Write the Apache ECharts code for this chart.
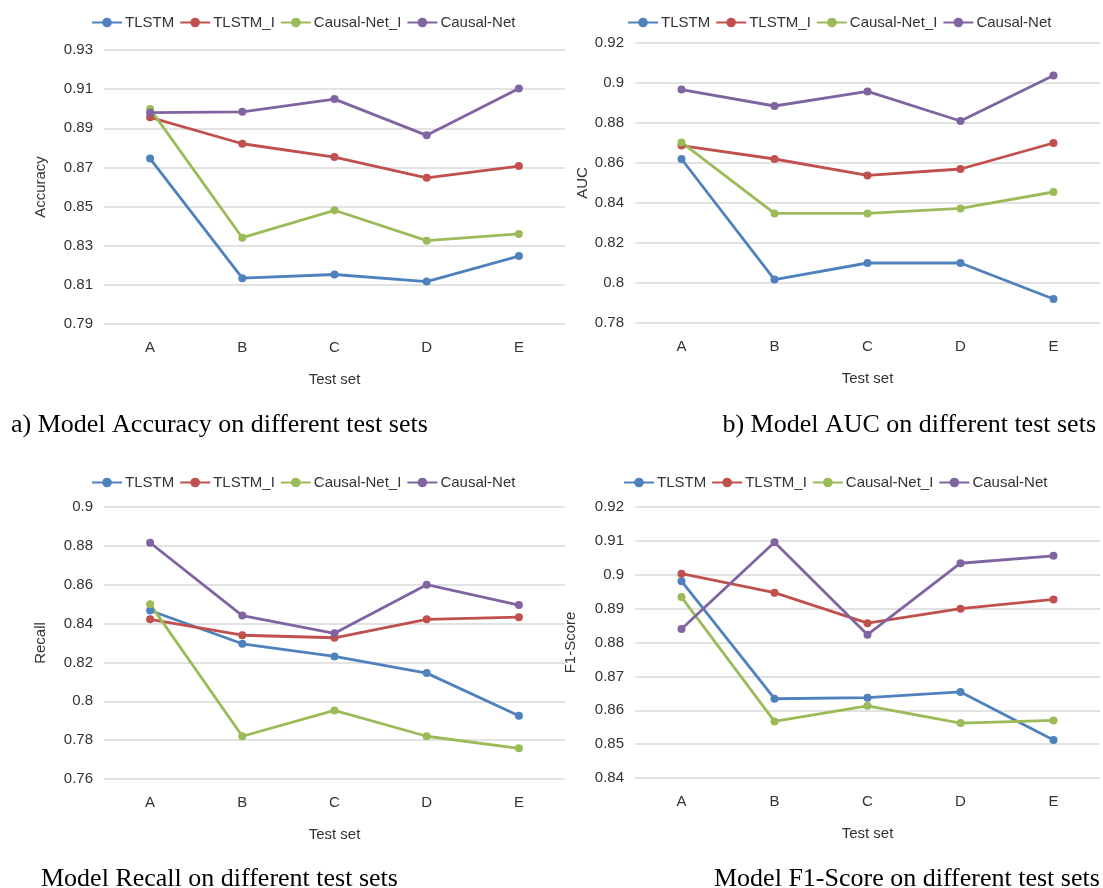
<!DOCTYPE html>
<html lang="en">
<head>
    <meta charset="UTF-8">
    <title>Model metrics on test sets</title>
    <script src="https://cdn.jsdelivr.net/npm/echarts@6/dist/echarts.min.js"></script>
    <style>
        html, body{
            margin: 0;
            padding: 0;
            background: #fff;
        }
        #main{
            width: 1103px;
            height: 888px;
        }
    </style>
</head>
<body>
<div id="main"></div>
<script>
    var testSets = ['A', 'B', 'C', 'D', 'E'];
    var models = ['TLSTM', 'TLSTM_I', 'Causal-Net_I', 'Causal-Net'];
    var colors = ['#4F81BD', '#C0504D', '#9BBB59', '#8064A2'];

    // a) accuracy
    var accTLSTM = [0.8745, 0.8134, 0.8153, 0.8117, 0.8247];
    var accTLSTM_I = [0.8956, 0.8821, 0.8753, 0.8647, 0.8707];
    var accCausalNet_I = [0.8999, 0.8341, 0.8481, 0.8326, 0.8360];
    var accCausalNet = [0.8980, 0.8984, 0.9049, 0.8864, 0.9103];

    // b) auc
    var aucTLSTM = [0.8620, 0.8017, 0.8100, 0.8100, 0.7920];
    var aucTLSTM_I = [0.8687, 0.8620, 0.8538, 0.8570, 0.8700];
    var aucCausalNet_I = [0.8703, 0.8348, 0.8348, 0.8373, 0.8455];
    var aucCausalNet = [0.8967, 0.8885, 0.8958, 0.8810, 0.9037];

    // recall
    var recTLSTM = [0.8467, 0.8296, 0.8231, 0.8145, 0.7926];
    var recTLSTM_I = [0.8422, 0.8340, 0.8327, 0.8422, 0.8433];
    var recCausalNet_I = [0.8500, 0.7820, 0.7953, 0.7820, 0.7758];
    var recCausalNet = [0.8816, 0.8441, 0.8350, 0.8600, 0.8495];

    // f1
    var f1TLSTM = [0.8981, 0.8634, 0.8637, 0.8654, 0.8512];
    var f1TLSTM_I = [0.9003, 0.8947, 0.8857, 0.8900, 0.8927];
    var f1CausalNet_I = [0.8934, 0.8567, 0.8613, 0.8562, 0.8570];
    var f1CausalNet = [0.8840, 0.9096, 0.8823, 0.9034, 0.9056];

    var font = 'Liberation Sans';
    var textColor = '#333';
    var gridColor = '#d9d9d9';

    var panels = [
        {name: 'Accuracy', left: 104, top: 50, height: 274, width: 461, min: 0.79, max: 0.93, interval: 0.01, oddOnly: true,
            data: [accTLSTM, accTLSTM_I, accCausalNet_I, accCausalNet], legendLeft: 86, legendTop: 10, nameGap: 56},
        {name: 'AUC', left: 635, top: 43, height: 280, width: 465, min: 0.78, max: 0.92, interval: 0.02,
            data: [aucTLSTM, aucTLSTM_I, aucCausalNet_I, aucCausalNet], legendLeft: 622, legendTop: 10, nameGap: 45},
        {name: 'Recall', left: 104, top: 507, height: 272, width: 461, min: 0.76, max: 0.9, interval: 0.02,
            data: [recTLSTM, recTLSTM_I, recCausalNet_I, recCausalNet], legendLeft: 86, legendTop: 470, nameGap: 56},
        {name: 'F1-Score', left: 635, top: 507, height: 271, width: 465, min: 0.84, max: 0.92, interval: 0.01,
            data: [f1TLSTM, f1TLSTM_I, f1CausalNet_I, f1CausalNet], legendLeft: 618, legendTop: 470, nameGap: 57}
    ];

    var grids = [], xAxes = [], yAxes = [], legends = [], series = [];
    panels.forEach(function(p, i){
        grids.push({left: p.left, top: p.top, width: p.width, height: p.height});
        xAxes.push({
            type: 'category',
            gridIndex: i,
            data: testSets,
            boundaryGap: true,
            axisLine: {show: false},
            axisTick: {show: false},
            axisLabel: {color: textColor, fontFamily: font, fontSize: 15, margin: 16},
            name: 'Test set',
            nameLocation: 'middle',
            nameGap: 48,
            nameTextStyle: {color: textColor, fontFamily: font, fontSize: 15}
        });
        yAxes.push({
            type: 'value',
            gridIndex: i,
            min: p.min,
            max: p.max,
            interval: p.interval,
            axisLine: {show: false},
            axisTick: {show: false},
            axisLabel: {
                color: textColor, fontFamily: font, fontSize: 15, margin: 11,
                formatter: function(v){
                    if (p.oddOnly && Math.round(v * 100) % 2 === 0) return '';
                    return String(+v.toFixed(2));
                }
            },
            splitLine: {
                show: true,
                lineStyle: {color: p.oddOnly ? [gridColor, 'rgba(0,0,0,0)'] : gridColor, width: 1.5}
            },
            name: p.name,
            nameLocation: 'middle',
            nameRotate: 90,
            nameGap: p.nameGap,
            nameTextStyle: {color: textColor, fontFamily: font, fontSize: 15}
        });
        legends.push({
            left: p.legendLeft,
            top: p.legendTop,
            data: models,
            itemWidth: 30,
            itemHeight: 12,
            itemGap: 5,
            textStyle: {color: textColor, fontFamily: font, fontSize: 15, padding: [0, 0, 0, -2]}
        });
        models.forEach(function(m, k){
            series.push({
                name: m,
                type: 'line',
                xAxisIndex: i,
                yAxisIndex: i,
                data: p.data[k],
                symbol: 'circle',
                symbolSize: 8,
                lineStyle: {width: 2.8, color: colors[k]},
                itemStyle: {color: colors[k]}
            });
        });
    });

    var captionStyle = {fontFamily: 'Liberation Serif', fontSize: 26, fontWeight: 'normal', color: '#000'};

    var chart = echarts.init(document.getElementById('main'));
    chart.setOption({
        animation: false,
        color: colors,
        title: [
            {text: 'a) Model Accuracy on different test sets', left: 6, top: 407, textStyle: captionStyle},
            {text: 'b) Model AUC on different test sets', right: 2, top: 407, textStyle: captionStyle},
            {text: 'Model Recall on different test sets', left: 36, top: 861, textStyle: captionStyle},
            {text: 'Model F1-Score on different test sets', left: 709, top: 861, textStyle: captionStyle}
        ],
        legend: legends,
        grid: grids,
        xAxis: xAxes,
        yAxis: yAxes,
        series: series
    });
</script>
</body>
</html>
